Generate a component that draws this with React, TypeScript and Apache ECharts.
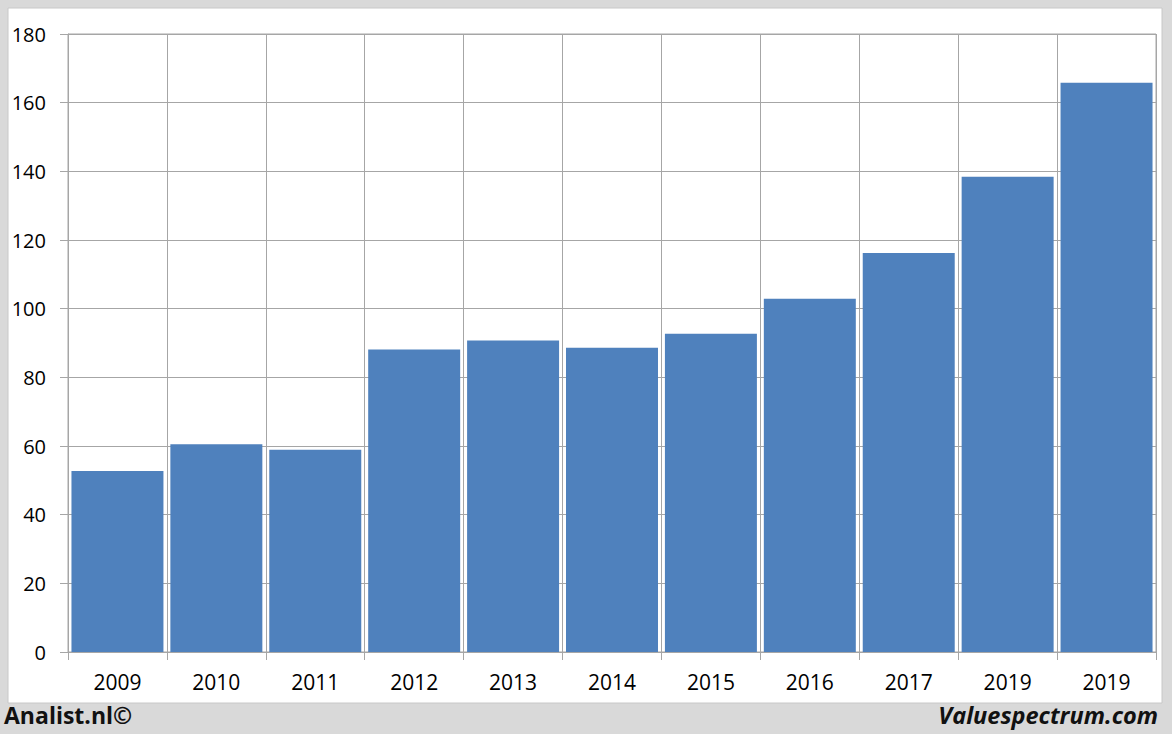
import React, { useEffect, useRef } from "react";
import * as echarts from "echarts";

const categories = ["2009", "2010", "2011", "2012", "2013", "2014", "2015", "2016", "2017", "2019", "2019 "];
const values = [52.7, 60.5, 58.9, 88.1, 90.7, 88.6, 92.7, 102.9, 116.2, 138.4, 165.8];
const leftCredit = "Analist.nl©";
const rightCredit = "Valuespectrum.com";

const FONT = "'Open Sans', 'Liberation Sans', sans-serif";
const GRID_COLOR = "#a6a6a6";

export default function App() {
  const ref = useRef<HTMLDivElement>(null);
  useEffect(() => {
    document.body.style.margin = "0";
    const chart = echarts.init(ref.current!, null, { renderer: "svg" });
    chart.setOption({
      animation: false,
      backgroundColor: "#d9d9d9",
      graphic: [
        {
          type: "rect",
          z: -10,
          silent: true,
          shape: { x: 8, y: 8, width: 1154, height: 695 },
          style: { fill: "#ffffff", stroke: "#c8c8c8", lineWidth: 1 },
        },
        {
          type: "text",
          left: 4,
          top: 703,
          style: { text: leftCredit, font: `bold 23px ${FONT}`, fill: "#111111" },
        },
        {
          type: "text",
          right: 14,
          top: 703,
          style: { text: rightCredit, font: `italic bold 23.5px ${FONT}`, fill: "#111111" },
        },
      ],
      grid: {
        left: 68,
        right: 16,
        top: 34,
        bottom: 82,
        show: true,
        borderColor: GRID_COLOR,
        borderWidth: 1,
        backgroundColor: "transparent",
      },
      xAxis: {
        type: "category",
        data: categories,
        boundaryGap: true,
        axisLine: { show: true, lineStyle: { color: GRID_COLOR, width: 1 } },
        axisTick: { show: true, length: 8, interval: 0, lineStyle: { color: GRID_COLOR } },
        splitLine: { show: true, interval: 0, lineStyle: { color: GRID_COLOR, width: 1 } },
        axisLabel: {
          interval: 0,
          color: "#000000",
          fontFamily: FONT,
          fontSize: 21,
          margin: 19,
          formatter: (v: string) => v.trim(),
        },
      },
      yAxis: {
        type: "value",
        min: 0,
        max: 180,
        interval: 20,
        axisLine: { show: true, lineStyle: { color: GRID_COLOR, width: 1 } },
        axisTick: { show: true, length: 8, lineStyle: { color: GRID_COLOR } },
        splitLine: { show: true, lineStyle: { color: GRID_COLOR, width: 1 } },
        axisLabel: {
          color: "#000000",
          fontFamily: FONT,
          fontSize: 20,
          margin: 22,
        },
      },
      series: [
        {
          type: "bar",
          data: values,
          barCategoryGap: "7%",
          itemStyle: { color: "#4f81bd" },
        },
      ],
    });
    return () => chart.dispose();
  }, []);
  return (
    <div
      ref={ref}
      style={{ position: "fixed", left: 0, top: 0, width: 1172, height: 734 }}
    />
  );
}
